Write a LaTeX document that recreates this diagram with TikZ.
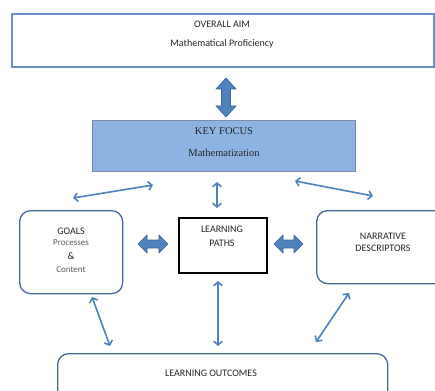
\documentclass[tikz,border=0pt]{standalone}
\usepackage{fontspec}
\setmainfont{Carlito}
\newfontfamily\timesf{Liberation Serif}
\usetikzlibrary{arrows.meta}
\definecolor{arrowblue}{HTML}{4F81BD}
\definecolor{arrowedge}{HTML}{3C6497}
\definecolor{aimedge}{HTML}{6A92C8}
\definecolor{focusfill}{HTML}{8DB3E2}
\definecolor{focusedge}{HTML}{7D8CA3}
\definecolor{roundedge}{HTML}{46699A}
\definecolor{subgray}{HTML}{595959}
\tikzset{
  aimbox/.style={draw=aimedge, line width=1.6pt, anchor=north west, inner sep=0pt},
  focusbox/.style={draw=focusedge, fill=focusfill, line width=0.9pt, anchor=north west, inner sep=0pt},
  pathbox/.style={draw=black, line width=2pt, anchor=north west, inner sep=0pt},
  roundbox/.style={draw=roundedge, line width=1.3pt, rounded corners=11pt, anchor=north west, inner sep=0pt},
  txt/.style={inner sep=0pt, font=\fontsize{10}{12}\selectfont, text=black!85},
  subtxt/.style={inner sep=0pt, font=\fontsize{9}{11}\selectfont, text=subgray},
  serif/.style={inner sep=0pt, font=\timesf\fontsize{10.5}{12}\selectfont, text=black!85},
  thinarrow/.style={draw=arrowblue, line width=1.6pt, line cap=round,
    {Straight Barb[length=3.5pt,width=8pt,line cap=round]}-{Straight Barb[length=3.5pt,width=8pt,line cap=round]}},
  blockarrow/.style={fill=arrowblue, draw=arrowedge, line width=0.6pt, line join=miter}
}
\begin{document}
\begin{tikzpicture}[x=1pt,y=-1pt]
\useasboundingbox (0,0) rectangle (435,390);
\fill[white] (0,0) rectangle (435,390);

% boxes
\node[aimbox, minimum width=422pt, minimum height=53pt] (aim) at (11,13) {};
\node[txt] (aimtitle) at (222,24) {OVERALL AIM};
\node[txt] (aimtext) at (222,44) {Mathematical Proficiency};

\node[focusbox, minimum width=263pt, minimum height=51pt] (focus) at (92,120) {};
\node[serif] (focustitle) at (224,131) {KEY FOCUS};
\node[serif] (focustext) at (224,153) {Mathematization};

\node[roundbox, minimum width=103pt, minimum height=83pt] (goals) at (19,210) {};
\node[txt] (goalstitle) at (71,231) {GOALS};
\node[subtxt] (goalsp) at (71,243) {Processes};
\node[txt] (goalsamp) at (71,256) {\&};
\node[subtxt] (goalsc) at (71,270) {Content};

\node[pathbox, minimum width=88pt, minimum height=55pt] (paths) at (178,217) {};
\node[txt] (paths1) at (222,229) {LEARNING};
\node[txt] (paths2) at (222,243) {PATHS};

\node[roundbox, minimum width=130pt, minimum height=73pt] (narr) at (316,210) {};
\node[txt] (narr1) at (383,236) {NARRATIVE};
\node[txt] (narr2) at (383,248) {DESCRIPTORS};

\node[roundbox, minimum width=330pt, minimum height=50pt] (outc) at (57,353) {};
\node[txt] (outctext) at (211,373) {LEARNING OUTCOMES};

% big vertical block arrow (aim <-> focus)
\coordinate (va) at (226,78);
\coordinate (vb) at (226,117);
\filldraw[blockarrow] (va) -- ++(10,11) -- ++(-5.5,0) -- ++(0,17) -- ++(5.5,0)
  -- (vb) -- ++(-10,-11) -- ++(5.5,0) -- ++(0,-17) -- ++(-5.5,0) -- cycle;

% horizontal block arrows
\coordinate (la) at (138,244);
\filldraw[blockarrow] (la) -- ++(9,-9) -- ++(0,5) -- ++(12,0) -- ++(0,-5) -- ++(9,9)
  -- ++(-9,9) -- ++(0,-5) -- ++(-12,0) -- ++(0,5) -- cycle;
\coordinate (ra) at (274,244);
\filldraw[blockarrow] (ra) -- ++(9,-9) -- ++(0,5) -- ++(11,0) -- ++(0,-5) -- ++(9,9)
  -- ++(-9,9) -- ++(0,-5) -- ++(-11,0) -- ++(0,5) -- cycle;

% thin arrows
\coordinate (gk1) at (73,198);
\coordinate (gk2) at (153,185);
\draw[thinarrow] (gk1) -- (gk2);
\coordinate (pk1) at (217,182);
\coordinate (pk2) at (217,208);
\draw[thinarrow] (pk1) -- (pk2);
\coordinate (nk1) at (295,181);
\coordinate (nk2) at (373,196);
\draw[thinarrow] (nk1) -- (nk2);

\coordinate (go1) at (92,297);
\coordinate (go2) at (110,346);
\draw[thinarrow] (go1) -- (go2);
\coordinate (po1) at (218,281);
\coordinate (po2) at (218,346);
\draw[thinarrow] (po1) -- (po2);
\coordinate (no1) at (349,293);
\coordinate (no2) at (316,342);
\draw[thinarrow] (no1) -- (no2);
\end{tikzpicture}
\end{document}
